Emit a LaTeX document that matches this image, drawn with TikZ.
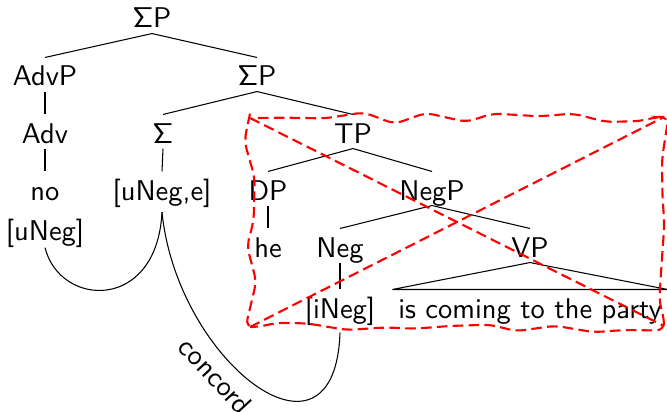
\documentclass[tikz,border=0pt]{standalone}
\usepackage{fontspec}
\usetikzlibrary{decorations.pathmorphing}

\tikzset{
  tn/.style={anchor=base, font=\sffamily\fontsize{10.8}{13}\selectfont,
    text height=9.6pt, text depth=0.9pt, inner ysep=1pt, inner xsep=2pt},
  crossout/.style={red, line width=0.8pt, dash pattern=on 4pt off 2pt}
}

\begin{document}
\begin{tikzpicture}[x=0.0133cm, y=0.0133cm]
            \useasboundingbox (0,0) rectangle (667,-411);
            \node[tn] (SigP) at (152,-28) {ΣP};
            \node[tn] (AdvP) at (45,-86) {AdvP};
            \node[tn] (SigPb) at (257,-86) {ΣP};
            \node[tn] (Adv) at (45,-143) {Adv};
            \node[tn] (Sig) at (163,-143) {Σ};
            \node[tn] (TP) at (353,-143) {TP};
            \node[tn] (no) at (45,-200) {no};
            \node[tn] (uNeg) at (45,-240) {[uNeg]};
            \node[tn] (uNege) at (162,-200) {[uNeg,e]};
            \node[tn] (DP) at (268,-200) {DP};
            \node[tn] (NegP) at (432,-200) {NegP};
            \node[tn] (he) at (268,-257) {he};
            \node[tn] (Neg) at (340,-257) {Neg};
            \node[tn] (VP) at (530,-257) {VP};
            \node[tn] (iNeg) at (340,-318) {[iNeg]};
            \node[tn] (party) at (530,-318) {is coming to the party};
            \draw (SigP.south) -- (AdvP.north);
            \draw (SigP.south) -- (SigPb.north);
            \draw (AdvP.south) -- (Adv.north);
            \draw (Adv.south) -- (no.north);
            \draw (SigPb.south) -- (Sig.north);
            \draw (SigPb.south) -- (TP.north);
            \draw (Sig.south) -- (uNege.north);
            \draw (TP.south) -- (DP.north);
            \draw (TP.south) -- (NegP.north);
            \draw (DP.south) -- (he.north);
            \draw (NegP.south) -- (Neg.north);
            \draw (NegP.south) -- (VP.north);
            \draw (Neg.south) -- (iNeg.north);
            \draw (VP.south) -- (party.north west) -- (party.north east) -- cycle;
            \draw ([yshift=-0.8pt]uNeg.south) .. controls +(15,-60) and +(-5,-100) .. ([yshift=-2.5pt]uNege.south);
            \draw ([yshift=-2.5pt]uNege.south) .. controls +(15,-150) and +(-5,-150) ..
              node[pos=0.4, sloped, below, font=\sffamily\fontsize{10.8}{13}\selectfont] {concord}
              ([yshift=-3.4pt]iNeg.south);
            \coordinate (boxnw) at (250,-118);
            \coordinate (boxne) at (664,-117);
            \coordinate (boxsw) at (250,-327);
            \coordinate (boxse) at (664,-326);
            \draw[crossout, rounded corners=3pt, decorate,
              decoration={random steps, segment length=13pt, amplitude=2.5pt}]
              (boxnw) -- (boxne) -- (boxse) -- (boxsw) -- cycle;
            \draw[crossout] (boxnw) -- (boxse);
            \draw[crossout] (boxsw) -- (boxne);
        \end{tikzpicture}
\end{document}
